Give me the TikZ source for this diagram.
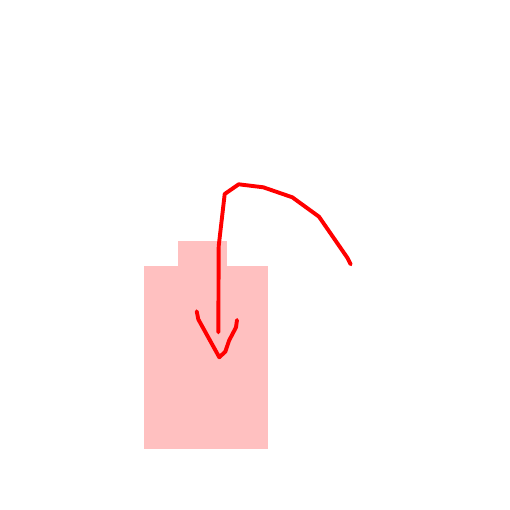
\documentclass[tikz,border=0pt]{standalone}
\definecolor{boxpink}{HTML}{FFC0C0}
\definecolor{inkred}{HTML}{FF0000}
\tikzset{
  ink/.style={draw=inkred, line width=3.9pt, line cap=round, line join=round},
  shapefill/.style={fill=boxpink, draw=none}
}
\begin{document}
\begin{tikzpicture}[x=1pt,y=-1pt]
\useasboundingbox (0,0) rectangle (510,510);
\fill[white] (0,0) rectangle (510,510);
% box with tab
\path[shapefill] (144,266) rectangle (268,449);
\path[shapefill] (178,241) rectangle (227,266.5);
% hand-drawn arrow
\draw[ink] (350.7,264.3) -- (347.3,257.7) -- (319,216.7) -- (292.3,197.3) -- (263.3,187.3) -- (238.7,184.3) -- (224.7,194) -- (218.7,246) -- (218.3,332.3);
\draw[ink] (196.7,311.3) -- (198.3,319.3) -- (219.3,357.3) -- (221.7,355) -- (225.3,351.7) -- (229,340.7) -- (236,327.3) -- (237,320);
\end{tikzpicture}
\end{document}
